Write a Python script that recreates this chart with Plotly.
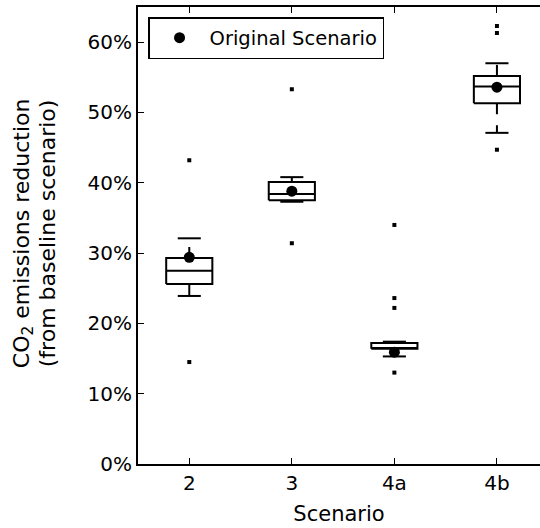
import plotly.graph_objects as go

# Scenario box-plot statistics (fraction of baseline CO2 emissions avoided)
scenarios = ["2", "3", "4a", "4b"]
q1 = [0.256, 0.375, 0.164, 0.513]
median = [0.275, 0.384, 0.165, 0.537]
q3 = [0.293, 0.401, 0.172, 0.552]
whisker_low = [0.239, 0.373, 0.153, 0.471]
whisker_high = [0.321, 0.408, 0.174, 0.570]
original = [0.294, 0.388, 0.159, 0.536]
outliers = {
    "2": [0.432, 0.145],
    "3": [0.533, 0.314],
    "4a": [0.340, 0.236, 0.222, 0.130],
    "4b": [0.623, 0.613, 0.447],
}
y_ticks = [0.0, 0.1, 0.2, 0.3, 0.4, 0.5, 0.6]
y_tick_labels = ["0%", "10%", "20%", "30%", "40%", "50%", "60%"]
y_title_lines = ["CO<sub>2</sub> emissions reduction", "(from baseline scenario)"]

positions = list(range(1, len(scenarios) + 1))
half_w = 0.225      # box half-width
cap_w = half_w / 2  # whisker cap half-width

box_x, box_y = [], []
wh_x, wh_y = [], []
for i, p in enumerate(positions):
    # rectangle
    box_x += [p - half_w, p + half_w, p + half_w, p - half_w, p - half_w, None]
    box_y += [q1[i], q1[i], q3[i], q3[i], q1[i], None]
    # median
    box_x += [p - half_w, p + half_w, None]
    box_y += [median[i], median[i], None]
    # caps
    box_x += [p - cap_w, p + cap_w, None, p - cap_w, p + cap_w, None]
    box_y += [whisker_high[i], whisker_high[i], None, whisker_low[i], whisker_low[i], None]
    # whiskers, drawn outward from the box edges
    wh_x += [p, p, None, p, p, None]
    wh_y += [q3[i], whisker_high[i], None, q1[i], whisker_low[i], None]

out_x, out_y = [], []
for p, name in zip(positions, scenarios):
    for v in outliers[name]:
        out_x.append(p)
        out_y.append(v)

fig = go.Figure()
fig.add_trace(go.Scatter(x=box_x, y=box_y, mode="lines",
                         line=dict(color="black", width=2),
                         showlegend=False, hoverinfo="skip"))
fig.add_trace(go.Scatter(x=wh_x, y=wh_y, mode="lines",
                         line=dict(color="black", width=2, dash="11px,11px"),
                         showlegend=False, hoverinfo="skip"))
fig.add_trace(go.Scatter(x=out_x, y=out_y, mode="markers",
                         marker=dict(symbol="square", size=4, color="black"),
                         showlegend=False))
fig.add_trace(go.Scatter(x=positions, y=original, mode="markers",
                         name="Original Scenario",
                         marker=dict(symbol="circle", size=11, color="black")))

# two-line y-axis title, one rotated annotation per line
left_px, plot_w = 138, 402
for line_text, center_px in zip(y_title_lines, [23, 47]):
    fig.add_annotation(text=line_text, textangle=-90,
                       xref="paper", yref="paper",
                       x=(center_px - left_px) / plot_w, y=0.505,
                       xanchor="center", yanchor="middle",
                       showarrow=False, font=dict(size=22))

fig.update_layout(
    width=540, height=528,
    margin=dict(l=left_px, r=0, t=7, b=64),
    plot_bgcolor="white", paper_bgcolor="white",
    font=dict(family="DejaVu Sans", size=19, color="black"),
    legend=dict(x=0.025, y=0.978, xanchor="left", yanchor="top",
                bordercolor="black", borderwidth=1.5, bgcolor="white",
                itemwidth=50, font=dict(size=19.5)),
    xaxis=dict(range=[0.5, 4.42], tickvals=positions, ticktext=scenarios,
               ticks="inside", ticklen=6, tickwidth=1, tickcolor="black",
               tickfont=dict(size=20),
               showline=True, linewidth=2, linecolor="black", mirror="ticks",
               showgrid=False, zeroline=False,
               title=dict(text="Scenario", standoff=12, font=dict(size=21))),
    yaxis=dict(range=[0, 0.65], tickvals=y_ticks, ticktext=y_tick_labels,
               ticks="inside", ticklen=6, tickwidth=1, tickcolor="black",
               tickfont=dict(size=20),
               showline=True, linewidth=2, linecolor="black", mirror=False,
               showgrid=False, zeroline=False),
)

fig.write_html("out.html")
